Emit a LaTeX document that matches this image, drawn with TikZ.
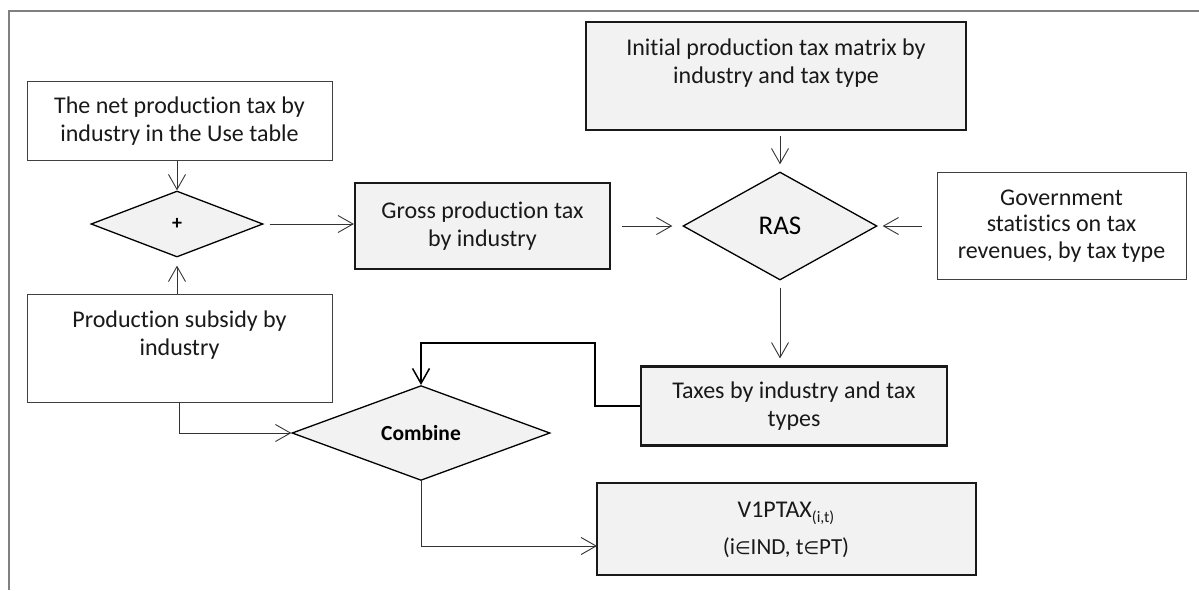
\documentclass[tikz,border=0pt]{standalone}
\usepackage{fontspec}
\setmainfont[Ligatures=NoCommon]{Carlito}
\newfontfamily\symfont{DejaVu Sans}
\usetikzlibrary{shapes.geometric,arrows.meta}
\definecolor{boxfill}{HTML}{F2F2F2}
\definecolor{framegray}{HTML}{808080}
\begin{document}
\begin{tikzpicture}[x=1pt,y=-1pt,
  box/.style={rectangle, draw=black!75, line width=0.9pt, fill=white, inner sep=0pt},
  gbox/.style={rectangle, draw=black!90, line width=2.2pt, fill=boxfill, inner sep=0pt},
  dia/.style={diamond, draw=black, line width=1.3pt, fill=boxfill, inner sep=0pt},
  lbl/.style={align=center, font=\fontsize{24}{28.5}\selectfont, text=black!90},
  arr/.style={draw=black!80, line width=0.9pt, -{Straight Barb[length=15pt,width=17pt]}},
]
\useasboundingbox (0,0) rectangle (1199,590);
\draw[framegray, line width=1.5pt] (9,590) -- (9,11) -- (1199,11);

% boxes
\node[box, minimum width=305, minimum height=79, lbl] (net) at (179.5,121) {The net production tax by\\industry in the Use table};
\node[dia, minimum width=172, minimum height=66, font=\bfseries\fontsize{20}{22}\selectfont] (plus) at (177,224) {+};
\node[gbox, minimum width=255, minimum height=86, lbl] (gross) at (482.5,226) {Gross production tax\\by industry};
\node[gbox, minimum width=380, minimum height=108] (init) at (776,76) {};
\node[lbl] (inittext) at (776,63) {Initial production tax matrix by\\industry and tax type};
\node[dia, minimum width=194, minimum height=108, font=\fontsize{27}{30}\selectfont] (ras) at (780,226) {RAS};
\node[box, minimum width=249, minimum height=107, align=center, font=\fontsize{24}{26.5}\selectfont, text=black!90] (gov) at (1061.5,226) {Government\\statistics on tax\\revenues, by tax type};
\node[box, minimum width=305, minimum height=108] (prod) at (179.5,348) {};
\node[lbl] (prodtext) at (179.5,335) {Production subsidy by\\industry};
\node[dia, minimum width=258, minimum height=82, font=\bfseries\fontsize{21.5}{22}\selectfont] (comb) at (421,433) {Combine};
\node[gbox, minimum width=306, minimum height=79, lbl] (taxes) at (794,406) {Taxes by industry and tax\\types};
\node[gbox, minimum width=379, minimum height=92] (v1) at (786.5,529) {};
\node[align=center, text=black!90] (v1text) at (786,530) {\fontsize{24}{24}\selectfont V1PTAX\raisebox{-5pt}{\fontsize{16}{16}\selectfont (i,t)}\\[12pt]\fontsize{23}{23}\selectfont (i{\symfont\fontsize{18}{18}\selectfont ∈}IND, t{\symfont\fontsize{18}{18}\selectfont ∈}PT)};

% connectors
\coordinate (loopc) at (595,343);
\coordinate (v1in) at (597,546);
\draw[arr] (net.south -| plus.north) -- (plus.north);
\draw[arr, shorten >=8pt] (plus.south |- prod.north) -- (plus.south);
\draw[arr, shorten <=6pt] (plus.east) -- (plus.east -| gross.west);
\draw[arr, shorten <=11pt, shorten >=10pt] (gross.east |- ras.west) -- (ras.west);
\draw[arr, shorten <=15pt, shorten >=5pt] (gov.west |- ras.east) -- (ras.east);
\draw[arr, shorten <=5pt, shorten >=7pt] (ras.north |- init.south) -- (ras.north);
\draw[arr, shorten <=7pt, shorten >=7pt] (ras.south) -- (ras.south |- taxes.north);
\draw[arr] (prod.south) |- (comb.west);
\draw[arr, draw=black, line width=1.5pt] (taxes.west) -| (loopc) -- (loopc -| comb.north) -- (comb.north);
\draw[arr] (comb.south) |- (v1in);
\end{tikzpicture}
\end{document}
